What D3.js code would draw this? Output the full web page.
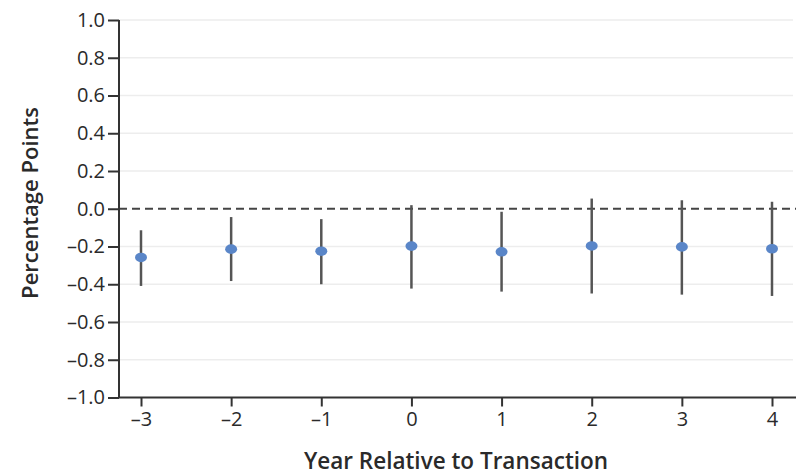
<!DOCTYPE html>
<html><head><meta charset="utf-8">
<script src="https://cdn.jsdelivr.net/npm/d3@7"></script>
<style>body{margin:0;background:#fff}svg{display:block}</style>
</head><body><svg id="c" width="796" height="475"></svg>
<script>
const years = [-3, -2, -1, 0, 1, 2, 3, 4];
const estimates = [-0.258, -0.214, -0.225, -0.198, -0.228, -0.197, -0.202, -0.212];
const lower = [-0.409, -0.383, -0.400, -0.423, -0.439, -0.449, -0.455, -0.462];
const upper = [-0.114, -0.044, -0.055, 0.019, -0.016, 0.054, 0.045, 0.037];
const yTicks = [1.0, 0.8, 0.6, 0.4, 0.2, 0.0, -0.2, -0.4, -0.6, -0.8, -1.0];

const svg = d3.select("#c");
const font = "'Open Sans', sans-serif";
const x = d3.scaleLinear().domain([-3, 4]).range([141, 772]);
const y = d3.scaleLinear().domain([-1, 1]).range([397.5, 20]);
const left = 119, right = 796;
const fmtY = v => (v < 0 ? "\u2013" : "") + Math.abs(v).toFixed(1);
const fmtX = v => (v < 0 ? "\u2013" : "") + Math.abs(v);

// gridlines
svg.append("g").selectAll("line").data(yTicks.filter(v => v !== 0 && v !== -1))
  .join("line").attr("x1", left).attr("x2", 793)
  .attr("y1", d => y(d)).attr("y2", d => y(d))
  .attr("stroke", "#ededed").attr("stroke-width", 1.5);

// zero dashed line
svg.append("line").attr("x1", left).attr("x2", right).attr("y1", y(0)).attr("y2", y(0))
  .attr("stroke", "#444").attr("stroke-width", 2).attr("stroke-dasharray", "8,5");

// y axis
const yAxis = svg.append("g").attr("transform", `translate(${left},0)`)
  .call(d3.axisLeft(y).tickValues(yTicks).tickFormat(fmtY).tickSize(11).tickPadding(3));
yAxis.select(".domain").attr("stroke", "#333").attr("stroke-width", 2).attr("d", `M0,${y(-1)}V${y(1)}`);
yAxis.selectAll(".tick line").attr("stroke", "#333").attr("stroke-width", 2);
yAxis.selectAll(".tick text").attr("fill", "#2a2a2a").style("font-family", font).style("font-size", "20px");

// x axis
const xAxis = svg.append("g").attr("transform", `translate(0,${y(-1)})`)
  .call(d3.axisBottom(x).tickValues(years).tickFormat(fmtX).tickSize(9).tickPadding(5));
xAxis.select(".domain").attr("stroke", "#333").attr("stroke-width", 2).attr("d", `M${left},0H${right}`);
xAxis.selectAll(".tick line").attr("stroke", "#333").attr("stroke-width", 2);
xAxis.selectAll(".tick text").attr("fill", "#2a2a2a").style("font-family", font).style("font-size", "20px");

// error bars
svg.append("g").selectAll("line").data(years).join("line")
  .attr("x1", d => x(d)).attr("x2", d => x(d))
  .attr("y1", (d, i) => y(upper[i])).attr("y2", (d, i) => y(lower[i]))
  .attr("stroke", "#555").attr("stroke-width", 2.5);

// points
svg.append("g").selectAll("ellipse").data(years).join("ellipse")
  .attr("cx", d => x(d)).attr("cy", (d, i) => y(estimates[i]))
  .attr("rx", 6).attr("ry", 4.8).attr("fill", "#5a86c8");

// axis titles
svg.append("text").attr("x", 456).attr("y", 469).attr("text-anchor", "middle")
  .attr("fill", "#2a2a2a").style("font-family", font).style("font-size", "22.5px").style("font-weight", "600")
  .text("Year Relative to Transaction");
svg.append("text").attr("transform", `translate(38,203) rotate(-90)`).attr("text-anchor", "middle")
  .attr("fill", "#2a2a2a").style("font-family", font).style("font-size", "22px").style("font-weight", "600")
  .text("Percentage Points");
</script></body></html>
